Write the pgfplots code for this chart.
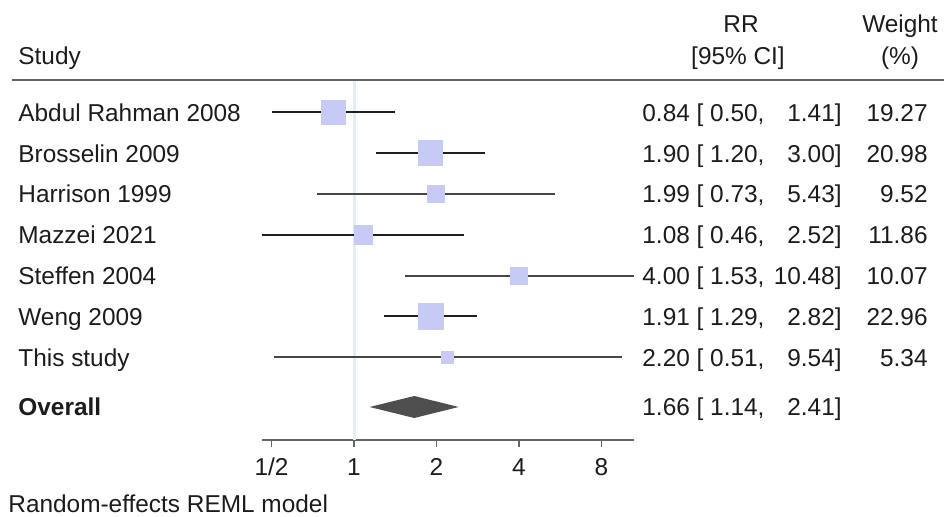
\documentclass[border=0pt]{standalone}
\usepackage{pgfplots}
\pgfplotsset{compat=1.18}
\usepackage{pgfplotstable}
\usepackage{fontspec}
\setmainfont{Liberation Sans}

\definecolor{boxc}{RGB}{200,202,246}
\definecolor{diamc}{RGB}{78,78,78}
\definecolor{refc}{RGB}{222,240,243}
\definecolor{rulec}{RGB}{100,100,100}
\definecolor{txt}{RGB}{28,28,28}

\newcommand{\fs}{\fontsize{12.2}{14}\selectfont}

% y = minus the row position
\pgfplotstableread{
y       rr    lo    hi     w
-112.5  0.84  0.50  1.41   19.27
-153.3  1.90  1.20  3.00   20.98
-194.1  1.99  0.73  5.43   9.52
-234.9  1.08  0.46  2.52   11.86
-275.7  4.00  1.53  10.48  10.07
-316.5  1.91  1.29  2.82   22.96
-357.3  2.20  0.51  9.54   5.34
}\studies

% one table row: y, study, estimate with lower limit, upper limit, weight
\newcommand{\studyrow}[5]{%
  \node[anchor=base west] at (18,#1+8.8) {#2};
  \node[anchor=base west] at (642,#1+8.8) {#3};
  \node[anchor=base east] at (842,#1+8.8) {#4};
  \node[anchor=base east] at (928,#1+8.8) {#5};
}

\begin{document}
\begin{tikzpicture}
\useasboundingbox (0pt,0pt) rectangle (472pt,-258.5pt);

\begin{axis}[
  at={(130.8pt,-220pt)}, anchor=south west,
  scale only axis, width=186pt, height=180pt,
  xmode=log, log basis x=2,
  xmin=0.46, xmax=10.48, ymin=-440, ymax=-80,
  axis x line=bottom, axis y line=none,
  axis line style={-, rulec, line width=1pt},
  xtick={0.5,1,2,4,8}, xticklabels={1/2,1,2,4,8},
  tick align=outside, major tick length=3.5pt,
  xtick style={rulec, line width=0.8pt},
  minor xtick={},
  /pgf/number format/assume math mode=true,
  xticklabel style={font=\fs, text=txt, anchor=north, inner sep=0pt, text height=8.7pt, text depth=0pt, yshift=-5.5pt},
  clip=false,
]
  % line of no effect
  \addplot[refc, line width=1.5pt] coordinates {(1,-80) (1,-440)};

  % confidence intervals
  \addplot[black!88, line width=1pt] coordinates {(0.50,-112.5) (1.41,-112.5)};
  \addplot[black!88, line width=1pt] coordinates {(1.20,-153.3) (3.00,-153.3)};
  \addplot[black!72, line width=1pt] coordinates {(0.73,-194.1) (5.43,-194.1)};
  \addplot[black!88, line width=1pt] coordinates {(0.46,-234.9) (2.52,-234.9)};
  \addplot[black!72, line width=1pt] coordinates {(1.53,-275.7) (10.48,-275.7)};
  \addplot[black!88, line width=1pt] coordinates {(1.29,-316.5) (2.82,-316.5)};
  \addplot[black!72, line width=1pt] coordinates {(0.51,-357.3) (9.54,-357.3)};

  % study estimates, box area proportional to weight
  \addplot[only marks, mark=none,
    visualization depends on={2.8*sqrt(\thisrow{w}) \as \side},
    nodes near coords={},
    every node near coord/.style={rectangle, anchor=center, inner sep=0pt,
      minimum size=\side pt, fill=boxc, draw=none}]
    table[x=rr, y=y] {\studies};

  % pooled estimate
  \addplot[draw=none, fill=diamc] coordinates
    {(1.14,-407) (1.66,-396) (2.41,-407) (1.66,-418)} -- cycle;
\end{axis}

\begin{scope}[x=0.5pt,y=-0.5pt, every node/.style={font=\fs, text=txt, inner sep=0pt}]
  % header
  \node[anchor=base] at (741,33) {RR};
  \node[anchor=base] at (900,33) {Weight};
  \node[anchor=base west] at (18,65) {Study};
  \node[anchor=base] at (738,65) {[95\% CI]};
  \node[anchor=base] at (900,65) {(\%)};
  \draw[rulec, line width=1pt] (12,80) -- (944,80);

  % rows
  \studyrow{112.5}{Abdul Rahman 2008}{0.84 [ 0.50,}{1.41]}{19.27}
  \studyrow{153.3}{Brosselin 2009}{1.90 [ 1.20,}{3.00]}{20.98}
  \studyrow{194.1}{Harrison 1999}{1.99 [ 0.73,}{5.43]}{9.52}
  \studyrow{234.9}{Mazzei 2021}{1.08 [ 0.46,}{2.52]}{11.86}
  \studyrow{275.7}{Steffen 2004}{4.00 [ 1.53,}{10.48]}{10.07}
  \studyrow{316.5}{Weng 2009}{1.91 [ 1.29,}{2.82]}{22.96}
  \studyrow{357.3}{This study}{2.20 [ 0.51,}{9.54]}{5.34}
  \node[anchor=base west] at (18,415.8) {\bfseries Overall};
  \node[anchor=base west] at (642,415.8) {1.66 [ 1.14,};
  \node[anchor=base east] at (842,415.8) {2.41]};

  % footer
  \node[anchor=base west] at (8,513) {Random-effects REML model};
\end{scope}
\end{tikzpicture}
\end{document}
